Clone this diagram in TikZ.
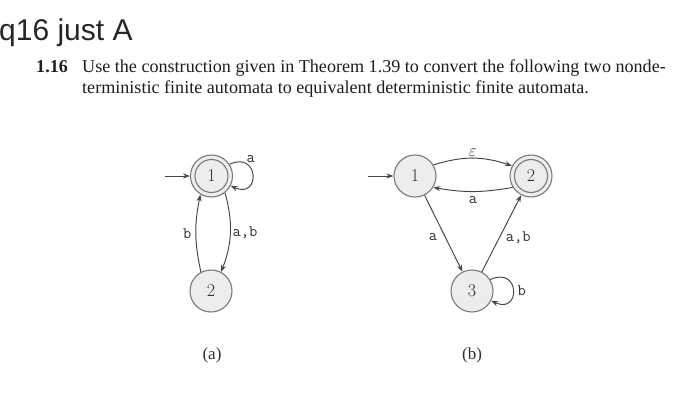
\documentclass[tikz,border=0pt]{standalone}
\usepackage{fontspec}
\newfontfamily\titlefont{Liberation Sans}
\newfontfamily\bodyfont{Liberation Serif}
\usetikzlibrary{arrows.meta}
\definecolor{stategray}{HTML}{7A7A7A}
\definecolor{statefill}{HTML}{EDEDED}
\definecolor{edgegray}{HTML}{454545}
\definecolor{textdark}{HTML}{303030}
\definecolor{bodytext}{HTML}{1E1E1E}
\begin{document}
\begin{tikzpicture}[x=1pt,y=1pt,
  state/.style={circle, draw=stategray, fill=statefill, line width=1.1pt, minimum size=42pt, inner sep=0pt, font=\fontsize{18}{18}\selectfont, text=textdark},
  ring/.style={draw=stategray, line width=1.1pt},
  edge/.style={draw=edgegray, line width=0.95pt, -{Stealth[length=7pt,width=5pt]}},
  lab/.style={font=\ttfamily\fontsize{16}{16}\selectfont, text=textdark, inner sep=1pt},
  body/.style={anchor=base west, inner sep=0pt, text=bodytext, font=\bodyfont\fontsize{18.1}{18.1}\selectfont}]
\useasboundingbox (0,0) rectangle (700,-417);
\fill[white] (0,0) rectangle (700,-417);

% title and problem text
\node[anchor=base west, inner sep=0pt, text=black!85, font=\titlefont\fontsize{30}{30}\selectfont] (title) at (-1,-41) {q16 just A};
\node[body, font=\bodyfont\bfseries\fontsize{18.1}{18.1}\selectfont] (num) at (36,-73) {1.16};
\node[body] (l1) at (82,-73) {Use the construction given in Theorem 1.39 to convert the following two nonde-};
\node[body] (l2) at (82,-93) {terministic finite automata to equivalent deterministic finite automata.};

% automaton (a)
\node[state] (a1) at (211.5,-176) {1};
\draw[ring] (a1.center) circle[radius=16.5pt];
\node[state] (a2) at (211,-291) {2};
\coordinate (sa) at (165,-176);
\draw[edge] (sa) -- (a1);
\draw[edge] (a1.-51) to[bend left=18] node[lab, right, xshift=1pt] {a,b} (a2.62);
\draw[edge] (a2.118) to[bend left=12] node[lab, left, xshift=-3pt] {b} (a1.-121);
\draw[edge] (a1.33) .. controls +(25:33) and +(-25:33) .. node[lab, pos=0.22, anchor=south west, inner sep=0pt, xshift=1pt] {a} (a1.-27);

% automaton (b)
\node[state] (b1) at (415,-176) {1};
\node[state] (b2) at (531,-176) {2};
\draw[ring] (b2.center) circle[radius=16.5pt];
\node[state] (b3) at (472,-291) {3};
\coordinate (sb) at (368,-176);
\draw[edge] (sb) -- (b1);
\draw[edge] (b1.31) to[bend left=18] node[lab, above, font=\fontsize{16}{16}\selectfont] {$\varepsilon$} (b2.152);
\draw[edge] (b2.-148) to[bend left=10] node[lab, below, yshift=-4pt] {a} (b1.-32);
\draw[edge] (b1) -- node[lab, left, xshift=-5pt, yshift=-4pt] {a} (b3);
\draw[edge] (b3) -- node[lab, right, xshift=3pt, yshift=-4pt] {a,b} (b2);
\draw[edge] (b3.32) .. controls +(25:33) and +(-25:33) .. node[lab, pos=0.5, right, xshift=3pt] {b} (b3.-27);

% captions
\node[text=textdark, font=\bodyfont\fontsize{17}{17}\selectfont] (capa) at (212,-355) {(a)};
\node[text=textdark, font=\bodyfont\fontsize{17}{17}\selectfont] (capb) at (472,-355) {(b)};
\end{tikzpicture}
\end{document}
